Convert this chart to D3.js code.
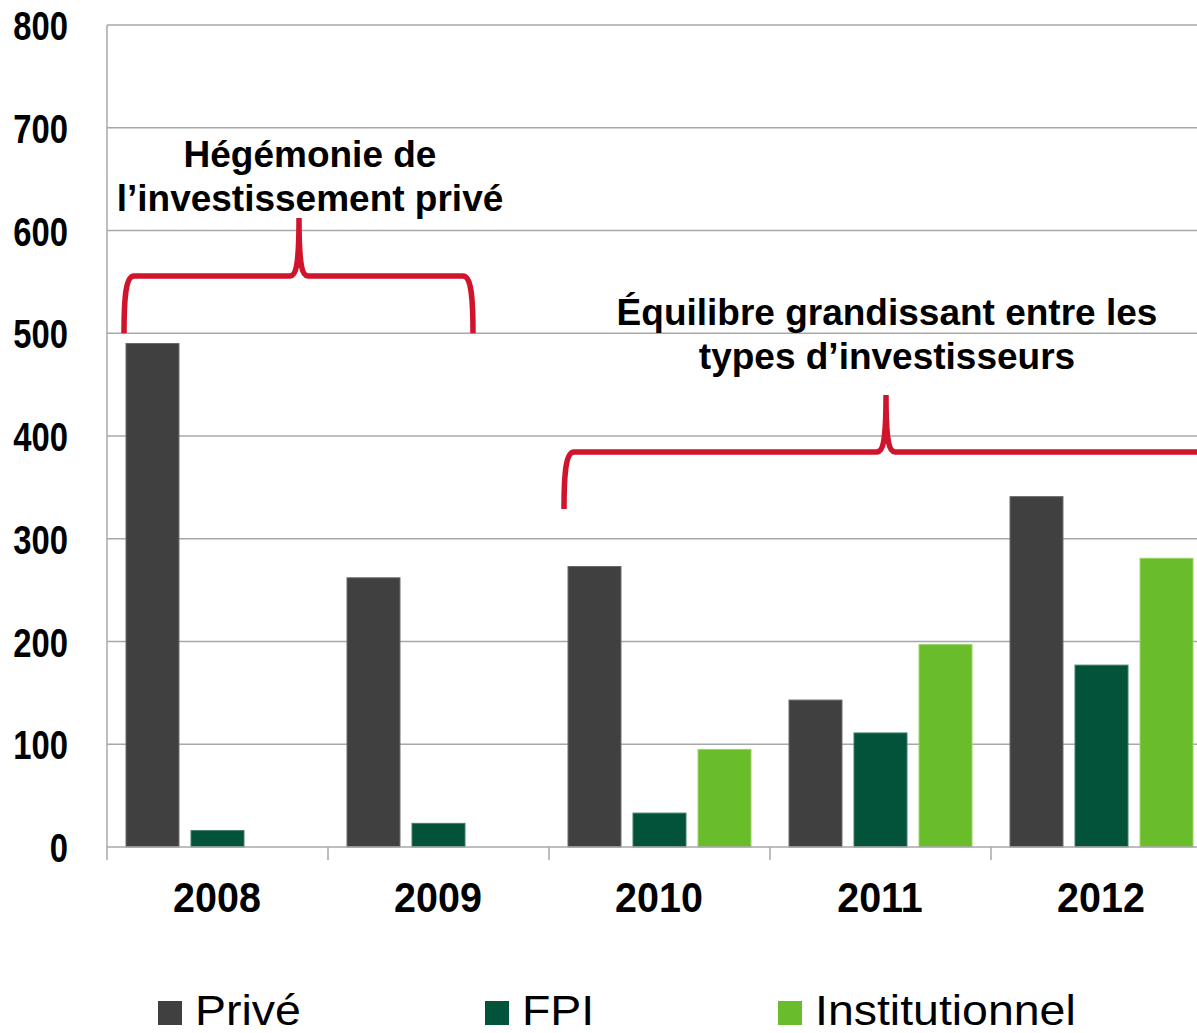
<!DOCTYPE html>
<html>
<head>
<meta charset="utf-8">
<script src="https://cdn.jsdelivr.net/npm/d3@7"></script>
<style>
  html, body { margin: 0; padding: 0; background: #fff; }
  svg { display: block; }
</style>
</head>
<body>
<svg id="chart" width="1197" height="1033"></svg>
<script>
const years = ["2008", "2009", "2010", "2011", "2012"];
const seriesNames = ["Privé", "FPI", "Institutionnel"];
const prive = [490, 262, 273, 143, 341];
const fpi = [16, 23, 33, 111, 177];
const institutionnel = [null, null, 95, 197, 281];
const yTicks = [0, 100, 200, 300, 400, 500, 600, 700, 800];
const colors = ["#404040", "#03523a", "#6abd2a"];
const strokes = ["#6a6a6a", "#3f7d68", "#9ad36a"];
const annotations = [
  { lines: ["Hégémonie de", "l’investissement privé"], from: "2008", to: "2009", level: 500 },
  { lines: ["Équilibre grandissant entre les", "types d’investisseurs"], from: "2010", to: "2012", level: 330 }
];

const svg = d3.select("#chart");
const x0 = d3.scaleBand().domain(years).range([107, 1212]).paddingInner(0).paddingOuter(0);
const x1 = d3.scaleBand().domain(seriesNames).range([19, 202]).paddingInner(0.185).paddingOuter(0);
const y = d3.scaleLinear().domain([0, 800]).range([847, 25]);

const data = [prive, fpi, institutionnel];

// gridlines
svg.append("g").selectAll("line").data(yTicks.filter(d => d > 0)).join("line")
  .attr("x1", 107).attr("x2", 1197)
  .attr("y1", d => y(d)).attr("y2", d => y(d))
  .attr("stroke", "#a8a8a8").attr("stroke-width", 1.5);

// bars
const gBars = svg.append("g");
data.forEach((vals, si) => {
  gBars.append("g").selectAll("rect")
    .data(years.map((yr, i) => ({ yr, v: vals[i] })).filter(d => d.v != null))
    .join("rect")
    .attr("x", d => x0(d.yr) + x1(seriesNames[si]))
    .attr("width", x1.bandwidth())
    .attr("y", d => y(d.v))
    .attr("height", d => y(0) - y(d.v))
    .attr("fill", colors[si])
    .attr("stroke", strokes[si]).attr("stroke-width", 1);
});

// axes lines
svg.append("line").attr("x1", 107).attr("x2", 107).attr("y1", y(800)).attr("y2", 860)
  .attr("stroke", "#a8a8a8").attr("stroke-width", 1.5);
svg.append("line").attr("x1", 107).attr("x2", 1197).attr("y1", y(0)).attr("y2", y(0))
  .attr("stroke", "#a8a8a8").attr("stroke-width", 1.5);
svg.append("g").selectAll("line").data(years.slice(1)).join("line")
  .attr("x1", d => x0(d)).attr("x2", d => x0(d))
  .attr("y1", y(0)).attr("y2", 860)
  .attr("stroke", "#a8a8a8").attr("stroke-width", 1.5);

// y tick labels (condensed bold)
svg.append("g").selectAll("text").data(yTicks).join("text")
  .attr("transform", d => `translate(68,${y(d) + 15}) scale(0.8,1)`)
  .attr("text-anchor", "end")
  .attr("font-family", "'Liberation Sans', Arial, sans-serif")
  .attr("font-weight", "bold").attr("font-size", 41)
  .attr("fill", "#000")
  .text(d => d);

// x labels
svg.append("g").selectAll("text").data(years).join("text")
  .attr("transform", d => `translate(${x0(d) + 110},912) scale(0.94,1)`)
  .attr("text-anchor", "middle")
  .attr("font-family", "'Liberation Sans', Arial, sans-serif")
  .attr("font-weight", "bold").attr("font-size", 42)
  .attr("fill", "#000")
  .text(d => d);

// brackets
function bracePath(xl, xr, xm, yBase, yTop, yTip) {
  const r = 10;
  return `M${xl},${yBase} C${xl},${yTop + 20} ${xl + 2},${yTop} ${xl + r},${yTop}` +
    ` L${xm - 9},${yTop} C${xm - 3},${yTop} ${xm},${yTop - 10} ${xm},${yTip}` +
    ` C${xm},${yTop - 10} ${xm + 3},${yTop} ${xm + 9},${yTop}` +
    ` L${xr - r},${yTop} C${xr - 2},${yTop} ${xr},${yTop + 20} ${xr},${yBase}`;
}
const gBr = svg.append("g").attr("fill", "none").attr("stroke", "#d0142c").attr("stroke-width", 5.5);
gBr.append("path").attr("d", bracePath(124, 473, 299, y(500), 276, 218));
gBr.append("path").attr("d", bracePath(564, 1240, 886, 509, 452, 395));

// annotation texts
const ann = svg.append("g").attr("font-family", "'Liberation Sans', Arial, sans-serif")
  .attr("font-weight", "bold").attr("font-size", 37).attr("fill", "#000").attr("text-anchor", "middle");
ann.append("text").attr("x", 310).attr("y", 167).text(annotations[0].lines[0]);
ann.append("text").attr("x", 310).attr("y", 211).text(annotations[0].lines[1]);
ann.append("text").attr("x", 887).attr("y", 325).text(annotations[1].lines[0]);
ann.append("text").attr("x", 887).attr("y", 369).text(annotations[1].lines[1]);

// legend
const legendX = [158, 485, 778];
const lg = svg.append("g");
seriesNames.forEach((name, i) => {
  lg.append("rect").attr("x", legendX[i]).attr("y", 1001).attr("width", 24).attr("height", 24)
    .attr("fill", colors[i]);
  lg.append("text").attr("transform", `translate(${legendX[i] + 37},1025) scale(1.08,1)`)
    .attr("font-family", "'Liberation Sans', Arial, sans-serif")
    .attr("font-size", 43).attr("fill", "#000")
    .text(name);
});
</script>
</body>
</html>
